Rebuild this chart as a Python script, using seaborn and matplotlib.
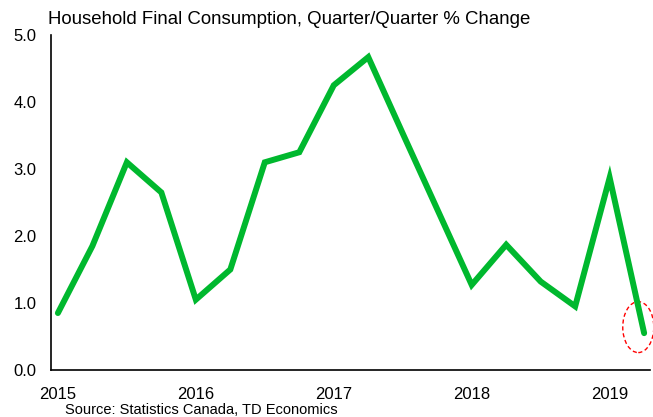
import numpy as np
import pandas as pd
import matplotlib
matplotlib.use('Agg')
import matplotlib.pyplot as plt
from matplotlib.patches import Ellipse
import seaborn as sns

# Quarterly data, 2015Q1 .. 2019Q2
quarters = ['2015Q1', '2015Q2', '2015Q3', '2015Q4',
            '2016Q1', '2016Q2', '2016Q3', '2016Q4',
            '2017Q1', '2017Q2', '2017Q3', '2017Q4',
            '2018Q1', '2018Q2', '2018Q3', '2018Q4',
            '2019Q1', '2019Q2']
change = [0.85, 1.85, 3.10, 2.65,
          1.05, 1.50, 3.10, 3.25,
          4.25, 4.67, 3.53, 2.40,
          1.27, 1.87, 1.32, 0.95,
          2.87, 0.55]
year_labels = ['2015', '2016', '2017', '2018', '2019']
y_ticks = [0.0, 1.0, 2.0, 3.0, 4.0, 5.0]

df = pd.DataFrame({'quarter': quarters, 'change': change})
df['idx'] = np.arange(len(df))

sns.set_style('white')
plt.rcParams['font.family'] = ['Liberation Sans', 'DejaVu Sans']

fig = plt.figure(figsize=(6.53, 4.17), dpi=100)
ax = fig.add_axes([51 / 653, 47 / 417, 599 / 653, 335 / 417])

sns.lineplot(data=df, x='idx', y='change', ax=ax, color='#00B82E',
             linewidth=4.3, solid_joinstyle='miter', solid_capstyle='round')

# Dashed ellipse highlighting the latest quarter
last = df.iloc[-1]
ax.add_patch(Ellipse((last['idx'] - 0.17, 0.64), 0.9, 0.76, fill=False,
                     edgecolor='#FF0000', linestyle=(0, (3, 2)), linewidth=1.0,
                     clip_on=False))

ax.set_xlim(-0.2, 17.17)
ax.set_ylim(0, 5)
ax.set_xticks(df['idx'][::4])
ax.set_xticklabels(year_labels)
ax.set_yticks(y_ticks)
ax.set_yticklabels([f'{v:.1f}' for v in y_ticks])
ax.tick_params(axis='both', length=0, labelsize=12, colors='black')
ax.tick_params(axis='y', pad=10.5)
ax.tick_params(axis='x', pad=12)
ax.set_xlabel('')
ax.set_ylabel('')

for side in ['top', 'right']:
    ax.spines[side].set_visible(False)
for side in ['left', 'bottom']:
    ax.spines[side].set_color('black')
    ax.spines[side].set_linewidth(1.2)

fig.text(48 / 653, 1 - 11 / 417, 'Household Final Consumption, Quarter/Quarter % Change',
         fontsize=13.4, ha='left', va='top', color='black')
fig.text(65 / 653, 1 - 410 / 417, 'Source: Statistics Canada, TD Economics',
         fontsize=10.5, ha='left', va='center', color='black')

fig.savefig('out.png', dpi=100)
